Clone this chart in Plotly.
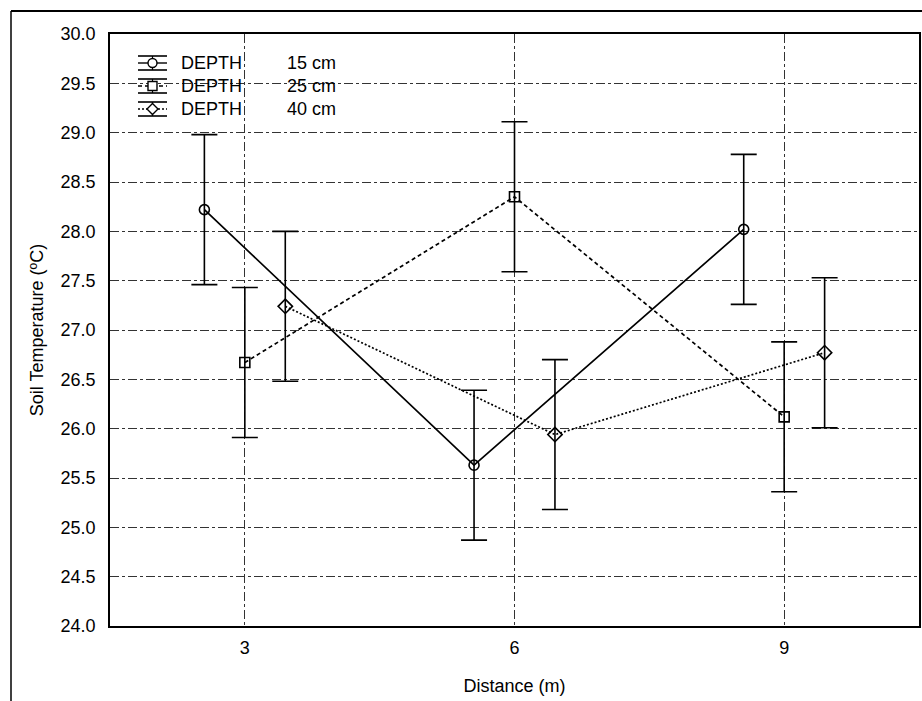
import plotly.graph_objects as go

# ---------------- data ----------------
distance = [3, 6, 9]
tick_labels = ["3", "6", "9"]
series_names = ["15 cm", "25 cm", "40 cm"]
temp_15 = [28.22, 25.63, 28.02]
temp_25 = [26.67, 28.35, 26.12]
temp_40 = [27.24, 25.94, 26.77]
err_15 = [0.76, 0.76, 0.76]
err_25 = [0.76, 0.76, 0.76]
err_40 = [0.76, 0.76, 0.76]
offsets = [-0.45, 0.0, 0.45]
y_ticks = [24.0 + 0.5 * i for i in range(13)]

FONT = "Liberation Sans, Arial, sans-serif"
W, H = 922, 701
ML, MR, MT, MB = 110, 3, 34, 75
PW, PH = W - ML - MR, H - MT - MB


def px(x):
    return (x - ML) / PW


def py(y):
    return (H - MB - y) / PH


styles = [
    dict(dash="solid", symbol="circle-open", size=10),
    dict(dash="4px,3px", symbol="square-open", size=10),
    dict(dash="2px,2px", symbol="diamond-open", size=11),
]
temps = [temp_15, temp_25, temp_40]
errs = [err_15, err_25, err_40]

fig = go.Figure()
for name, t, e, off, st in zip(series_names, temps, errs, offsets, styles):
    fig.add_trace(go.Scatter(
        x=[d + off for d in distance], y=t,
        mode="lines+markers", name="DEPTH " + name,
        line=dict(color="black", width=1.7, dash=st["dash"]),
        marker=dict(symbol=st["symbol"], size=st["size"], color="black",
                    line=dict(width=1.6, color="black")),
        error_y=dict(type="data", array=e, visible=True, color="black",
                     thickness=1.6, width=13),
        showlegend=False,
    ))

shapes = []
annotations = []
# outer frame (partly visible, as in the scan)
shapes.append(dict(type="line", xref="paper", yref="paper", x0=px(11), x1=px(922),
                   y0=py(11), y1=py(11), line=dict(color="black", width=2)))
shapes.append(dict(type="line", xref="paper", yref="paper", x0=px(11), x1=px(11),
                   y0=py(11), y1=py(701), line=dict(color="black", width=1.5)))

# manual legend
rows_y = [63, 86, 109]
sx0, sx1 = 138, 167
cx = (sx0 + sx1) / 2
for ry, name, st in zip(rows_y, series_names, styles):
    for dy in (-7, 7):
        shapes.append(dict(type="line", xref="paper", yref="paper", x0=px(sx0), x1=px(sx1),
                           y0=py(ry + dy), y1=py(ry + dy), line=dict(color="black", width=1.6)))
    shapes.append(dict(type="line", xref="paper", yref="paper", x0=px(cx), x1=px(cx),
                       y0=py(ry - 7), y1=py(ry + 7), line=dict(color="black", width=1.2)))
    shapes.append(dict(type="line", xref="paper", yref="paper", x0=px(sx0), x1=px(sx1),
                       y0=py(ry), y1=py(ry), line=dict(color="black", width=1.4, dash=st["dash"])))
    if st["symbol"].startswith("circle"):
        shapes.append(dict(type="circle", xref="paper", yref="paper", x0=px(cx - 4.5), x1=px(cx + 4.5),
                           y0=py(ry + 4.5), y1=py(ry - 4.5), fillcolor="white",
                           line=dict(color="black", width=1.4)))
    elif st["symbol"].startswith("square"):
        shapes.append(dict(type="rect", xref="paper", yref="paper", x0=px(cx - 4.5), x1=px(cx + 4.5),
                           y0=py(ry + 4.5), y1=py(ry - 4.5), fillcolor="white",
                           line=dict(color="black", width=1.4)))
    else:
        path = "M {} {} L {} {} L {} {} L {} {} Z".format(
            px(cx), py(ry - 5.5), px(cx + 5.5), py(ry), px(cx), py(ry + 5.5), px(cx - 5.5), py(ry))
        shapes.append(dict(type="path", xref="paper", yref="paper", path=path, fillcolor="white",
                           line=dict(color="black", width=1.4)))
    annotations.append(dict(xref="paper", yref="paper", x=px(179), y=py(ry), text="DEPTH",
                            showarrow=False, xanchor="left", yanchor="middle",
                            font=dict(family=FONT, size=18, color="black")))
    annotations.append(dict(xref="paper", yref="paper", x=px(285), y=py(ry), text=name,
                            showarrow=False, xanchor="left", yanchor="middle",
                            font=dict(family=FONT, size=18, color="black")))

fig.update_layout(
    width=W, height=H,
    margin=dict(l=ML, r=MR, t=MT, b=MB, autoexpand=False),
    paper_bgcolor="white", plot_bgcolor="white",
    font=dict(family=FONT, size=18, color="black"),
    shapes=shapes, annotations=annotations,
    xaxis=dict(
        range=[1.5, 10.5], tickmode="array", tickvals=distance, ticktext=tick_labels,
        showgrid=True, gridcolor="#333333", gridwidth=1, griddash="dashdot",
        showline=True, mirror=True, linecolor="black", linewidth=1.5,
        zeroline=False, ticks="", ticklabelstandoff=5,
        title=dict(text="Distance (m)", standoff=22, font=dict(family=FONT, size=18)),
        tickfont=dict(family=FONT, size=18),
    ),
    yaxis=dict(
        range=[24, 30], tickmode="array", tickvals=y_ticks,
        ticktext=["{:.1f}".format(v) for v in y_ticks],
        showgrid=True, gridcolor="#333333", gridwidth=1, griddash="dashdot",
        showline=True, mirror=True, linecolor="black", linewidth=1.5,
        zeroline=False, ticks="", ticklabelstandoff=9,
        title=dict(text="Soil Temperature (ºC)", standoff=12, font=dict(family=FONT, size=18)),
        tickfont=dict(family=FONT, size=18),
    ),
)

fig.write_html("out.html")
